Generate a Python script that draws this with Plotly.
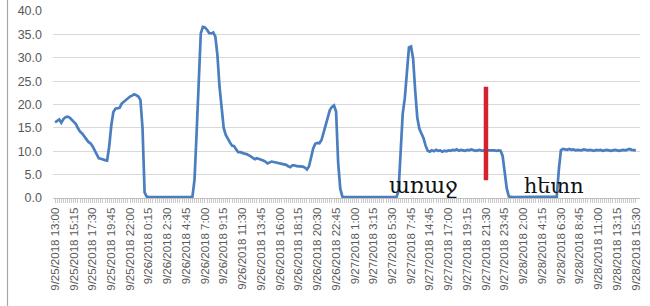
import plotly.graph_objects as go
from datetime import datetime, timedelta

# ---- categories (timestamps as shown on the category axis) ----
def fmt(d):
    return f"{d.month}/{d.day}/{d.year} {d.hour}:{d.minute:02d}"

part1 = [datetime(2018, 9, 25, 13, 0) + timedelta(minutes=15 * k) for k in range(172)]
part2 = [datetime(2018, 9, 27, 7, 45) + timedelta(minutes=45 * k) for k in range(1, 9)]
part3 = [datetime(2018, 9, 27, 14, 45) + timedelta(minutes=15 * k) for k in range(100)]
categories = [fmt(d) for d in part1 + part2 + part3]

label_every = 9

# ---- series values ----
values = [
    16.2, 16.5, 16.8, 16.1, 16.9, 17.3, 17.4, 17.2, 16.8,   # 9/25 13:00
    16.4, 15.8, 14.9, 14.2, 13.8, 13.3, 12.6, 12.0, 11.7,   # 15:15
    11.1, 10.3, 9.2, 8.5, 8.4, 8.2, 8.1, 8.0, 11.0,         # 17:30
    15.5, 18.4, 19.1, 19.2, 19.3, 20.2, 20.6, 21.0, 21.4,   # 19:45
    21.7, 21.9, 22.2, 22.0, 21.7, 21.0, 15.0, 1.2, 0.3,     # 22:00
    0.2, 0.2, 0.1, 0.2, 0.2, 0.2, 0.1, 0.2, 0.2,            # 9/26 0:15
    0.2, 0.2, 0.2, 0.1, 0.2, 0.2, 0.2, 0.2, 0.2,            # 2:30
    0.2, 0.2, 0.2, 0.3, 4.0, 14.0, 26.5, 35.2, 36.6,        # 4:45
    36.5, 36.0, 35.3, 35.2, 35.4, 34.5, 30.5, 23.8, 18.8,   # 7:00
    15.0, 13.5, 12.6, 11.9, 11.2, 11.1, 10.4, 9.8, 9.8,     # 9:15
    9.6, 9.5, 9.4, 9.2, 8.9, 8.6, 8.3, 8.5, 8.4,            # 11:30
    8.2, 8.0, 7.8, 7.4, 7.6, 7.8, 7.7, 7.6, 7.5,            # 13:45
    7.4, 7.3, 7.2, 7.1, 6.8, 6.6, 7.0, 7.0, 6.8,            # 16:00
    6.8, 6.7, 6.7, 6.5, 6.1, 6.8, 8.8, 10.6, 11.6,          # 18:15
    11.8, 11.7, 12.4, 14.0, 15.8, 17.5, 18.8, 19.5, 19.8,   # 20:30
    18.5, 7.5, 2.0, 0.3, 0.2, 0.2, 0.2, 0.2, 0.2,           # 22:45
    0.2, 0.2, 0.2, 0.2, 0.2, 0.2, 0.2, 0.2, 0.2,            # 9/27 1:00
    0.2, 0.2, 0.2, 0.2, 0.2, 0.2, 0.2, 0.2, 0.2,            # 3:15
    0.2, 0.2, 0.2, 1.5, 11.0, 18.0, 21.3, 27.0, 32.2,       # 5:30
    32.4, 29.8, 23.0, 17.2, 14.8, 13.9, 12.8, 11.2, 10.1,   # 7:45
    9.9, 10.2, 10.0, 10.3, 10.1, 10.2, 9.9, 10.1, 10.0,     # 14:45
    10.2, 10.1, 10.3, 10.2, 10.4, 10.1, 10.3, 10.2, 10.1,   # 17:00
    10.3, 10.2, 10.4, 10.3, 10.1, 10.2, 10.3, 10.1, 10.2,   # 19:15
    10.3, 10.2, 10.2, 10.3, 10.2, 10.1, 10.2, 10.1, 9.0,    # 21:30
    5.5, 2.0, 0.3, 0.2, 0.2, 0.2, 0.2, 0.2, 0.2,            # 23:45
    0.2, 0.2, 0.2, 0.2, 0.2, 0.2, 0.2, 0.2, 0.2,            # 9/28 2:00
    0.2, 0.2, 0.2, 0.2, 0.2, 0.2, 0.2, 0.3, 6.0,            # 4:15
    10.2, 10.5, 10.4, 10.3, 10.5, 10.3, 10.4, 10.2, 10.3,   # 6:30
    10.3, 10.2, 10.4, 10.3, 10.2, 10.3, 10.2, 10.1, 10.3,   # 8:45
    10.2, 10.3, 10.1, 10.2, 10.3, 10.2, 10.1, 10.2, 10.3,   # 11:00
    10.2, 10.1, 10.2, 10.3, 10.2, 10.4, 10.5, 10.3, 10.2,   # 13:15
    10.2,                                                    # 15:30
]

y_ticks = [0, 5, 10, 15, 20, 25, 30, 35, 40]
y_tick_labels = [f"{v:.1f}" for v in y_ticks]

divider_category = "9/27/2018 21:30"
divider_span = [3.8, 23.8]

text_before = "առաջ"
text_after = "հետո"

tick_text = [c if i % label_every == 0 else "" for i, c in enumerate(categories)]

fig = go.Figure()
fig.add_trace(go.Scatter(
    x=categories, y=values, mode="lines",
    line=dict(color="#4a7ebf", width=2.7),
    hoverinfo="skip", showlegend=False,
))
fig.add_trace(go.Scatter(
    x=[divider_category, divider_category], y=divider_span, mode="lines",
    line=dict(color="#d42330", width=4.5),
    hoverinfo="skip", showlegend=False,
))

fig.add_annotation(x=177.0, y=2.6, xref="x", yref="y", text=text_before,
                   showarrow=False, font=dict(family="DejaVu Serif", size=22, color="#111111"))
fig.add_annotation(x=239.6, y=2.6, xref="x", yref="y", text=text_after,
                   showarrow=False, font=dict(family="DejaVu Serif", size=21, color="#111111"))

# chart border on the left
fig.add_shape(type="line", xref="paper", yref="paper", x0=-0.0775, x1=-0.0775, y0=-0.6, y1=1.06,
              line=dict(color="#a8a8a8", width=1.2), layer="above")

fig.update_layout(
    width=650, height=306,
    margin=dict(l=53, r=10, t=11, b=108, autoexpand=False),
    paper_bgcolor="white", plot_bgcolor="white",
    font=dict(family="Liberation Sans", color="#595959"),
)
fig.update_xaxes(
    type="category",
    categoryorder="array", categoryarray=categories,
    range=[-1, 281],
    tickmode="array", tickvals=categories, ticktext=tick_text,
    tickangle=-90, tickfont=dict(size=11.5, color="#595959"),
    ticks="outside", ticklen=4, tickcolor="#c8c8c8", tickwidth=1,
    showgrid=False, showline=True, linecolor="#bfbfbf", linewidth=1,
    zeroline=False, automargin=False,
)
fig.update_yaxes(
    range=[0, 40],
    tickmode="array", tickvals=y_ticks, ticktext=y_tick_labels,
    tickfont=dict(size=12.5, color="#595959"),
    showgrid=True, gridcolor="#d9d9d9", gridwidth=1,
    zeroline=False, showline=False, automargin=False,
    ticklabelstandoff=10,
)

fig.write_html("out.html", config={"displayModeBar": False, "staticPlot": True},
               post_script="document.body.style.margin='0';")
